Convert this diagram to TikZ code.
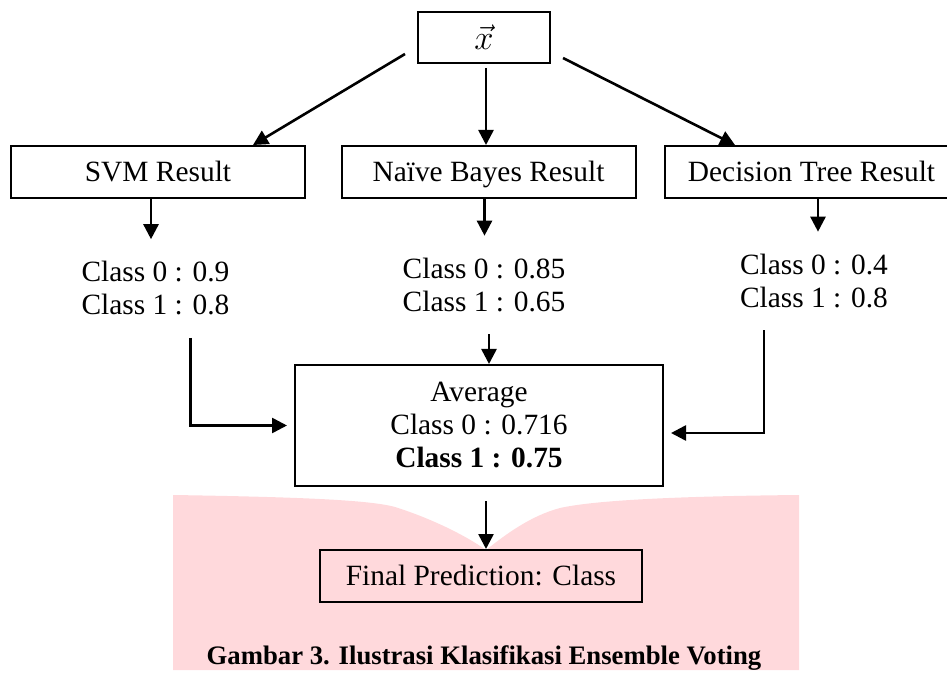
\documentclass[tikz,border=0pt]{standalone}
\usepackage{amsmath}
\usepackage{fontspec}
\setmainfont{Liberation Serif}
\usetikzlibrary{arrows.meta}
\definecolor{bookpink}{RGB}{255,217,220}

\begin{document}
\begin{tikzpicture}[x=0.5pt, y=-0.5pt,
    box/.style={rectangle, draw, line width=1pt, minimum height=26pt, inner sep=0pt, font=\fontsize{14.7pt}{16.5pt}\selectfont},
    result/.style={box, minimum width=147pt, text height=12pt, text depth=2pt},
    cls/.style={align=center, inner xsep=0pt, inner ysep=11pt, font=\fontsize{14.7pt}{16.5pt}\selectfont},
    arr/.style={line width=1.3pt, -{Triangle[length=7.5pt,width=7.5pt]}},
    >=Triangle]
            \useasboundingbox (0,0) rectangle (947,673);
            \fill[bookpink] (173,495) .. controls (300,497) and (370,500) .. (395,507)
                .. controls (430,518) and (465,535) .. (486,550)
                .. controls (505,535) and (530,516) .. (560,508)
                .. controls (600,499) and (700,496) .. (799,495)
                -- (799,670) -- (173,670) -- cycle;
            \node[box,minimum width=66pt,minimum height=25.5pt,font=\fontsize{19pt}{21pt}\selectfont] (xin) at (484,37.5) {$\vec{x}$};
            \node[result] (svm) at (158,172) {SVM Result};
            \node[result] (nb) at (488.5,172) {Naïve Bayes Result};
            \node[result] (dt) at (811.5,172) {Decision Tree Result};
            \node[cls] (svmcls) at (155.5,288.5) {Class 0 : 0.9\\Class 1 : 0.8};
            \node[cls] (nbcls) at (484,285) {Class 0 : 0.85\\Class 1 : 0.65};
            \node[cls] (dtcls) at (814,281) {Class 0 : 0.4\\Class 1 : 0.8};
            \node[box,minimum width=184pt,minimum height=60.5pt,align=center] (avg) at (479,425.5) {Average\\Class 0 : 0.716\\\textbf{Class 1 : 0.75}};
            \node[box,minimum width=161pt] (final) at (481,576) {Final Prediction: Class};
            \node[anchor=base,inner sep=0pt,font=\fontsize{13.35pt}{15pt}\selectfont\bfseries] (caption) at (484,664) {Gambar 3. Ilustrasi Klasifikasi Ensemble Voting};
            \draw[arr] ([shift={(-12,-10)}]xin.south west) -- ([shift={(95,0)}]svm.north);
            \draw[arr] ([shift={(2,4)}]xin.south) -- ([shift={(-2.5,0)}]nb.north);
            \draw[arr] ([shift={(12,-6)}]xin.south east) -- ([shift={(-76.5,0)}]dt.north);
            \draw[arr] ([xshift=-3.5pt]svm.south) -- ([xshift=-3.5pt]svm.south |- svmcls.north);
            \draw[arr] ([xshift=-2pt]nb.south) -- ([xshift=-2pt]nb.south |- nbcls.north);
            \draw[arr] ([xshift=3.25pt]dt.south) -- ([xshift=3.25pt]dt.south |- dtcls.north);
            \draw[arr,shorten >=3.5pt] ([xshift=17.5pt]svmcls.south) |- (avg.west);
            \draw[arr] ([xshift=2.5pt]nbcls.south) -- ([xshift=2.5pt]nbcls.south |- avg.north);
            \draw[arr,shorten >=3.5pt] ([xshift=-25pt]dtcls.south) |- ([yshift=-3.75pt]avg.east);
            \draw[arr,shorten <=7pt] ([xshift=3.5pt]avg.south) -- ([xshift=3.5pt]avg.south |- final.north);
        \end{tikzpicture}
\end{document}
